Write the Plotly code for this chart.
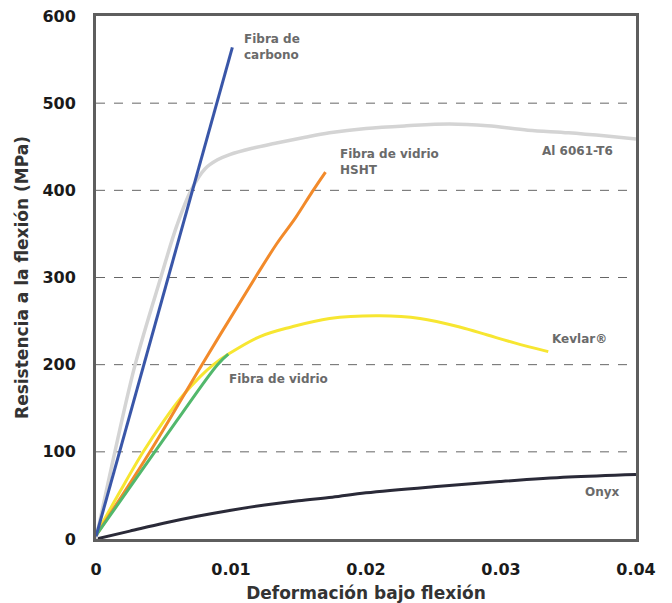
import plotly.graph_objects as go

# Flexural stress-strain curves (strain, stress in MPa)
carbon_x = [0.0, 0.0101]
carbon_y = [3, 564]

al_x = [0.0, 0.0014, 0.0029, 0.0048, 0.0060, 0.00704, 0.0081, 0.0090, 0.0099, 0.0115,
        0.0133, 0.0155, 0.0173, 0.020, 0.023, 0.0262, 0.029, 0.032, 0.035, 0.038, 0.040]
al_y = [0, 100, 200, 300, 360, 400, 425, 435, 441, 448,
        454, 461, 466, 471, 474, 476, 474, 469, 466, 462, 459]

hsht_x = [0.0, 0.004, 0.00785, 0.0118, 0.0134, 0.0148, 0.016, 0.0170]
hsht_y = [4, 100, 200, 300, 339, 369, 398, 421]

glass_x = [0.0, 0.003, 0.006, 0.009, 0.0098]
glass_y = [4, 70, 136, 200, 212]

kevlar_x = [0.0, 0.0018, 0.0035, 0.005, 0.0064, 0.0077, 0.0087, 0.0099, 0.0121, 0.0144,
            0.0173, 0.021, 0.024, 0.027, 0.029, 0.031, 0.0335]
kevlar_y = [5, 55, 100, 135, 164, 186, 200, 213, 232, 243,
            253, 256, 253, 243, 234, 225, 215]

onyx_x = [0.0, 0.0025, 0.005, 0.0075, 0.01, 0.0125, 0.015, 0.0175, 0.02, 0.025, 0.03, 0.035, 0.04]
onyx_y = [0, 9, 18, 26, 33, 39, 44, 48, 53, 60, 66, 71, 74]

x_ticks = [0, 0.01, 0.02, 0.03, 0.04]
x_tick_text = ["0", "0.01", "0.02", "0.03", "0.04"]
y_ticks = [0, 100, 200, 300, 400, 500, 600]

# Curve labels: text, x, y
labels = [
    ("Fibra de<br>carbono", 0.0108, 565),
    ("Fibra de vidrio<br>HSHT", 0.0179, 432),
    ("Al 6061-T6", 0.0329, 445),
    ("Kevlar®", 0.0336, 229),
    ("Fibra de vidrio", 0.0097, 184),
    ("Onyx", 0.0361, 54),
]

series = [
    (onyx_x, onyx_y, "#2a2a38", 3),
    (al_x, al_y, "#d4d4d4", 3.5),
    (kevlar_x, kevlar_y, "#f7e631", 3),
    (hsht_x, hsht_y, "#f28a2a", 3),
    (glass_x, glass_y, "#52b86c", 3),
    (carbon_x, carbon_y, "#3956a8", 3),
]

LABEL_FONT = "DejaVu Sans"

fig = go.Figure()
for xs, ys, col, w in series:
    fig.add_trace(go.Scatter(x=xs, y=ys, mode="lines",
                             line=dict(color=col, width=w, shape="spline", smoothing=1.0),
                             showlegend=False, hoverinfo="skip"))

for text, lx, ly in labels:
    fig.add_annotation(x=lx, y=ly, text=text, showarrow=False, xanchor="left", yanchor="middle",
                       align="left", font=dict(family=LABEL_FONT, size=12, color="#6a6a6a", weight="bold"))

# dashed horizontal reference lines
for v in y_ticks[1:-1]:
    fig.add_shape(type="line", xref="paper", yref="y", x0=0, x1=1, y0=v, y1=v,
                  line=dict(color="#666666", width=1, dash="dash"), layer="below")

fig.update_layout(
    width=672, height=603,
    margin=dict(l=96, r=36, t=16, b=64),
    plot_bgcolor="white", paper_bgcolor="white",
    xaxis=dict(range=[0, 0.04], tickvals=x_ticks, ticktext=x_tick_text, showgrid=False, zeroline=False,
               showline=True, linecolor="#5e5e5e", linewidth=3, mirror=True, ticks="", ticklabelstandoff=14,
               automargin=False,
               tickfont=dict(family=LABEL_FONT, size=16, color="#1a1a1a", weight="bold"),
               title=dict(text="Deformación bajo flexión", standoff=10,
                          font=dict(family=LABEL_FONT, size=17, color="#333333", weight="bold"))),
    yaxis=dict(range=[0, 600], tickvals=y_ticks, showgrid=False, zeroline=False,
               showline=True, linecolor="#5e5e5e", linewidth=3, mirror=True, ticks="", ticklabelstandoff=14,
               automargin=False,
               tickfont=dict(family=LABEL_FONT, size=16, color="#1a1a1a", weight="bold"),
               title=dict(text="Resistencia a la flexión (MPa)", standoff=10,
                          font=dict(family=LABEL_FONT, size=17, color="#333333", weight="bold"))),
)

fig.write_html("out.html")
